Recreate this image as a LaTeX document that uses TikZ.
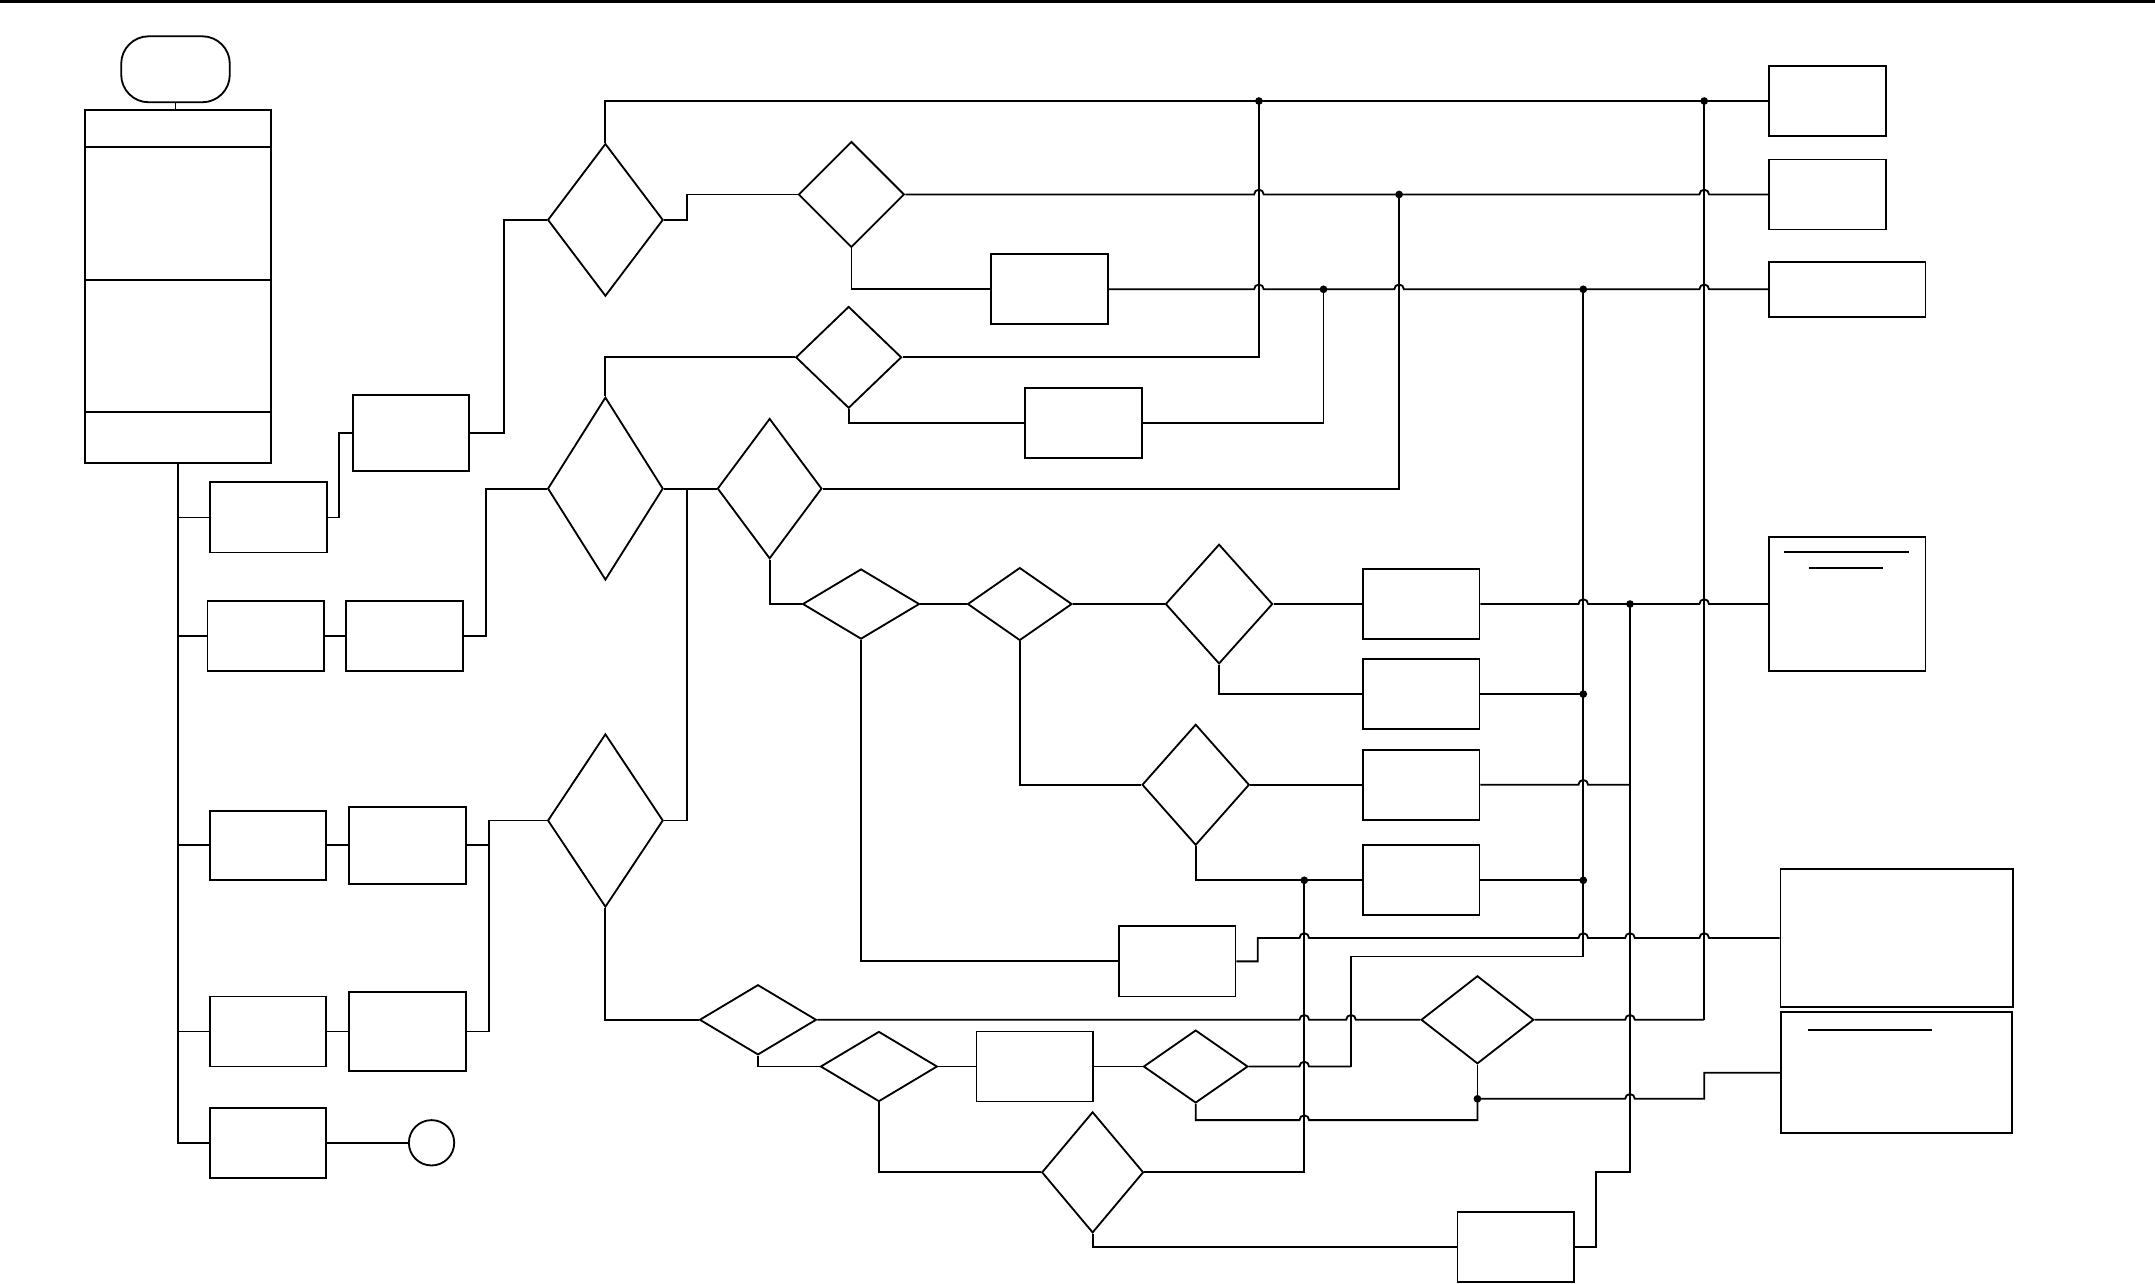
\documentclass[tikz,border=0pt]{standalone}
\usepackage{tikz}
\usetikzlibrary{positioning,shapes.geometric}

\tikzset{
  proc/.style={draw, rectangle, inner sep=0pt, minimum width=8.5mm, minimum height=5.1mm},
  decision/.style={draw, diamond, inner sep=0pt},
  terminal/.style={draw, rectangle, rounded corners=2mm, inner sep=0pt},
}
% line jump over a vertical bus #1, on the level of #2
\newcommand{\hop}[2]{-- ([xshift=-0.35mm]#1 |- #2) arc[start angle=180, end angle=0, radius=0.35mm]}

\begin{document}
\begin{tikzpicture}[x=0.1mm, y=-0.1mm, line width=0.38pt]
\useasboundingbox (0,0) rectangle (1568,934);
\fill (0,0) rectangle (1568,2.2);

% start and header block
\node[terminal, minimum width=7.9mm, minimum height=4.8mm] (start) at (127.7,50.4) {};
\node[draw, rectangle, inner sep=0pt, minimum width=13.5mm, minimum height=25.7mm] (head) at (129.5,208.5) {};
\foreach \yy in {107,204,300} {
  \draw (head.west |- 0,\yy) -- (head.east |- 0,\yy);
}

% left column
\node[proc] (a1) at (195.5,376.5) {};
\node[proc, minimum width=8.4mm, minimum height=5.5mm] (b1) at (299,315) {};
\node[proc] (c1) at (193.5,462.5) {};
\node[proc] (c2) at (294.5,462.5) {};
\node[proc, minimum height=5.0mm] (e1) at (195,615) {};
\node[proc, minimum height=5.6mm] (e2) at (296.5,615) {};
\node[proc] (f1) at (195,750.5) {};
\node[proc, minimum height=5.7mm] (f2) at (296.5,750.5) {};
\node[proc] (g1) at (195,831.5) {};
\node[draw, circle, inner sep=0pt, minimum size=3.3mm] (stop) at (314,831.5) {};

% decisions
\node[decision, minimum width=8.4mm, minimum height=11.1mm] (d1) at (440.5,160) {};
\node[decision, minimum width=7.7mm, minimum height=7.7mm] (d2) at (619.5,141.5) {};
\node[decision, minimum width=7.7mm, minimum height=7.4mm] (d3) at (617.5,260) {};
\node[decision, minimum width=8.4mm, minimum height=13.3mm] (d4) at (440.5,355.5) {};
\node[decision, minimum width=7.6mm, minimum height=10.2mm] (d5) at (560,355.5) {};
\node[decision, minimum width=8.4mm, minimum height=12.6mm] (d6) at (440.5,597) {};
\node[decision, minimum width=8.5mm, minimum height=5.1mm] (d7) at (626.5,439.5) {};
\node[decision, minimum width=7.6mm, minimum height=5.3mm] (d8) at (742,439.5) {};
\node[decision, minimum width=7.8mm, minimum height=8.7mm] (d9) at (887,439.5) {};
\node[decision, minimum width=7.8mm, minimum height=8.8mm] (d10) at (870,571) {};
\node[decision, minimum width=8.5mm, minimum height=5.1mm] (d11) at (639.5,776) {};
\node[decision, minimum width=8.5mm, minimum height=5.1mm] (d12) at (551.5,742) {};
\node[decision, minimum width=7.6mm, minimum height=5.3mm] (d13) at (870,776) {};
\node[decision, minimum width=8.2mm, minimum height=6.4mm] (d14) at (1075,742) {};
\node[decision, minimum width=7.4mm, minimum height=8.8mm] (d15) at (795,853) {};

% middle boxes
\node[proc] (p1) at (763.5,210.5) {};
\node[proc] (p2) at (788.5,308) {};
\node[proc] (q1) at (1034,439.5) {};
\node[proc] (q2) at (1034,505) {};
\node[proc] (q3) at (1034,571) {};
\node[proc] (q4) at (1034,640.5) {};
\node[proc] (o1) at (856.5,699.5) {};
\node[proc] (p3) at (753,776) {};
\node[proc] (t1) at (1103,907.5) {};

% right column
\node[proc] (r1) at (1329.5,73.5) {};
\node[proc] (r2) at (1329.5,141.5) {};
\node[proc, minimum width=11.4mm, minimum height=4.0mm] (r3) at (1344,210.5) {};
\node[proc, minimum width=11.4mm, minimum height=9.7mm] (r4) at (1344,439.5) {};
\node[proc, minimum width=16.9mm, minimum height=10mm] (s1) at (1380,682.5) {};
\node[proc, minimum width=16.8mm, minimum height=8.8mm] (s2) at (1380,780.5) {};
\draw (r4.north west) ++(12,11.5) -- ++(91,0);
\draw (r4.north west) ++(30,23) -- ++(54,0);
\draw (s2.north west) ++(20,13.5) -- ++(90.5,0);

% vertical buses
\coordinate (vA) at (916,73.5);
\coordinate (vB) at (1018,141.5);
\coordinate (vC) at (963,210.5);
\coordinate (vD) at (1152,210.5);
\coordinate (vE) at (1186,439.5);
\coordinate (vF) at (1240,73.5);
\coordinate (vG) at (949,640.5);
\coordinate (vH) at (983,696);
\coordinate (jN) at (1075,799.5);
\coordinate (jP) at (870,815);
\coordinate (jQ2) at (q2.east -| vD);
\coordinate (jQ4) at (q4.east -| vD);

% trunk
\draw (start.south) -- (start.south |- head.north);
\draw (head.south) |- (g1.west);
\foreach \b in {a1,c1,e1,f1} {
  \draw (head.south |- \b.west) -- (\b.west);
}

% left chains
\draw (a1.east) -- ++(8,0) |- (b1.west);
\draw (b1.east) -- ++(25,0) |- (d1.west);
\draw (c1.east) -- (c2.west);
\draw (c2.east) -- ++(16,0) |- (d4.west);
\draw (e1.east) -- (e2.west);
\draw (f1.east) -- (f2.west);
\draw (f2.east) -- ++(16,0) coordinate (jL) |- (d6.west);
\draw (e2.east) -- (e2.east -| jL);
\draw (g1.east) -- (stop.west);

% upper branch
\draw (d1.north) |- (r1.west);
\draw (d1.east) -- ++(16.5,0) |- (d2.west);
\draw (d2.east) \hop{vA}{r2.west} \hop{vF}{r2.west} -- (r2.west);
\draw (d2.south) |- (p1.west);
\draw (p1.east) \hop{vA}{r3.west} \hop{vB}{r3.west} \hop{vF}{r3.west} -- (r3.west);
\draw (d3.west) -| (d4.north);
\draw (d3.east) -| (vA);
\draw (d3.south) |- (p2.west);
\draw (p2.east) -| (vC);
\draw (d4.east) -- (d5.west);
\draw (d6.east) -- ++(16.5,0) |- (d4.east);
\draw (d5.east) -| (vB);
\draw (d5.south) |- (d7.west);

% middle chain
\draw (d7.east) -- (d8.west);
\draw (d8.east) -- (d9.west);
\draw (d9.east) -- (q1.west);
\draw (q1.east) \hop{vD}{r4.west} \hop{vF}{r4.west} -- (r4.west);
\draw (d9.south) |- (q2.west);
\draw (q2.east) -- (jQ2);
\draw (d8.south) |- (d10.west);
\draw (d10.east) -- (q3.west);
\draw (q3.east) \hop{vD}{q3.east} -- (q3.east -| vE);
\draw (d10.south) |- (q4.west);
\draw (q4.east) -- (jQ4);
\draw (d7.south) |- (o1.west);
\draw (o1.east) -| ([xshift=1.55mm]o1.east |- s1.west) \hop{vG}{s1.west} \hop{vD}{s1.west} \hop{vE}{s1.west} \hop{vF}{s1.west} -- (s1.west);

% lower branch
\draw (d6.south) |- (d12.west);
\draw (d12.east) \hop{vG}{d14.west} \hop{vH}{d14.west} -- (d14.west);
\draw (d12.south) |- (d11.west);
\draw (d11.east) -- (p3.west);
\draw (p3.east) -- (d13.west);
\draw (d13.east) \hop{vG}{d13.east} -- (d13.east -| vH);
\draw (d11.south) |- (d15.west);
\draw (d15.east) -| (vG);
\draw (d15.south) |- (t1.west);
\draw (d14.east) \hop{vE}{d14.east} -- (d14.east -| vF);
\draw (d13.south) -- (jP) \hop{vG}{jP} -| (jN);
\draw (d14.south) -- (jN);
\draw (jN) \hop{vE}{jN} -- (jN -| vF) |- (s2.west);

% buses
\draw (vD) -- (vD |- vH) -- (vH) -- (vH |- d13.east);
\draw (vE) -- (vE |- d15.east) -- ++(-25,0) |- (t1.east);
\draw (vF) -- (vF |- d14.east);

% junction dots
\foreach \p in {vA,vB,vC,vD,vE,vF,vG,jN,jQ2,jQ4} {
  \fill (\p) circle (0.28mm);
}

\end{tikzpicture}
\end{document}
